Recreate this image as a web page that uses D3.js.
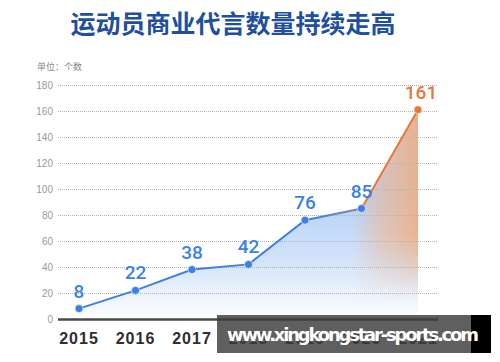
<!DOCTYPE html>
<meta charset="utf-8">
<title>运动员商业代言数量持续走高</title>
<style>
  body { margin:0; background:#fff; }
  svg { display:block; font-family:"Liberation Sans", Arial, sans-serif; }
  .title { font-family:"Noto Sans CJK SC", sans-serif; font-weight:bold; font-size:25px; fill:#1f4f9f; }
  .unit { font-family:"Noto Sans CJK SC", sans-serif; font-size:9px; fill:#8a8a8a; }
  .ytick { font-size:10px; fill:#9a9a9a; }
  .xtick { font-size:16px; font-weight:bold; fill:#2e2e2e; letter-spacing:1px; }
  .val { font-family:Roboto, "Liberation Sans", sans-serif; font-size:19px; font-weight:500; }
  .grid { stroke:#b4b4b4; stroke-width:1; stroke-dasharray:1,1; }
</style>
<body>
<svg width="500" height="362" id="chart"></svg>
<script src="https://cdnjs.cloudflare.com/ajax/libs/d3/7.8.5/d3.min.js"></script>
<script>
// data
var years = ["2015", "2016", "2017", "2018", "2019", "2020", "2021"];
var counts = [8, 22, 38, 42, 76, 85, 161];
var yTicks = [0, 20, 40, 60, 80, 100, 120, 140, 160, 180];

var blue = "#3b7fe8", orange = "#e8773a";

var svg = d3.select("#chart");

var x = d3.scalePoint().domain(years).range([79, 418]);
var y = d3.scaleLinear().domain([0, 180]).range([319, 85]);

var data = years.map(function(d, i) { return {year: d, v: counts[i]}; });

/* gradients */
var defs = svg.append("defs");
var gBlue = defs.append("linearGradient").attr("id", "blueFill")
    .attr("gradientUnits", "userSpaceOnUse")
    .attr("x1", 0).attr("y1", 200).attr("x2", 0).attr("y2", 322);
gBlue.append("stop").attr("offset", "0").attr("stop-color", "#b6d2f7");
gBlue.append("stop").attr("offset", "0.5").attr("stop-color", "#d3e4fa");
gBlue.append("stop").attr("offset", "1").attr("stop-color", "#ffffff");

var gOr = defs.append("linearGradient").attr("id", "orFill")
    .attr("gradientUnits", "userSpaceOnUse")
    .attr("x1", 352).attr("y1", 0).attr("x2", 418).attr("y2", 0);
gOr.append("stop").attr("offset", "0").attr("stop-color", "#f2b48c").attr("stop-opacity", 0);
gOr.append("stop").attr("offset", "0.45").attr("stop-color", "#f2b48c").attr("stop-opacity", 0.55);
gOr.append("stop").attr("offset", "1").attr("stop-color", "#f0ac7f").attr("stop-opacity", 0.85);

var gFade = defs.append("linearGradient").attr("id", "fadeDown")
    .attr("gradientUnits", "userSpaceOnUse")
    .attr("x1", 0).attr("y1", 235).attr("x2", 0).attr("y2", 300);
gFade.append("stop").attr("offset", "0").attr("stop-color", "#fff");
gFade.append("stop").attr("offset", "1").attr("stop-color", "#000");
defs.append("mask").attr("id", "orMask")
  .append("rect").attr("x", 0).attr("y", 0).attr("width", 500).attr("height", 362)
    .attr("fill", "url(#fadeDown)");

var gLine = defs.append("linearGradient").attr("id", "lineStroke")
    .attr("gradientUnits", "userSpaceOnUse")
    .attr("x1", x("2015")).attr("y1", 0).attr("x2", x("2021")).attr("y2", 0);
var f19 = (x("2019") - x("2015")) / (x("2021") - x("2015"));
var f20 = (x("2020") - x("2015")) / (x("2021") - x("2015"));
gLine.append("stop").attr("offset", 0).attr("stop-color", blue);
gLine.append("stop").attr("offset", f19).attr("stop-color", blue);
gLine.append("stop").attr("offset", f20 - 0.01).attr("stop-color", "#7b8fa6");
gLine.append("stop").attr("offset", f20).attr("stop-color", orange);
gLine.append("stop").attr("offset", 1).attr("stop-color", orange);

/* title */
svg.append("text").attr("class", "title")
    .attr("x", 233).attr("y", 33).attr("text-anchor", "middle")
    .text("运动员商业代言数量持续走高");
svg.append("text").attr("class", "unit")
    .attr("x", 37).attr("y", 70).text("单位：个数");

/* areas */
var area = d3.area()
    .x(function(d) { return x(d.year); })
    .y0(y(0)).y1(function(d) { return y(d.v); });

svg.append("path").datum(data)
    .attr("d", area).attr("fill", "url(#blueFill)");
svg.append("path").datum(data.slice(4))
    .attr("d", area).attr("fill", "url(#orFill)")
    .attr("mask", "url(#orMask)");

/* grid + y labels (grid shows through the areas) */
svg.selectAll(".grid").data(yTicks.slice(1)).enter().append("line")
    .attr("class", "grid")
    .attr("x1", 58).attr("x2", 437)
    .attr("y1", function(d) { return y(d) + 0.5; })
    .attr("y2", function(d) { return y(d) + 0.5; });

svg.selectAll(".ytick").data(yTicks).enter().append("text")
    .attr("class", "ytick")
    .attr("x", 53).attr("y", function(d) { return y(d) + 3.5; })
    .attr("text-anchor", "end")
    .text(function(d) { return d; });

/* x axis */
svg.append("line")
    .attr("x1", 58).attr("x2", 438)
    .attr("y1", y(0) + 0.5).attr("y2", y(0) + 0.5)
    .attr("stroke", "#4a4a4a").attr("stroke-width", 2.5);

svg.selectAll(".xtick").data(years).enter().append("text")
    .attr("class", "xtick")
    .attr("x", function(d) { return x(d); }).attr("y", 344)
    .attr("text-anchor", "middle")
    .text(function(d) { return d; });

/* line + dots + labels */
var line = d3.line()
    .x(function(d) { return x(d.year); })
    .y(function(d) { return y(d.v); });

svg.append("path").datum(data)
    .attr("d", line).attr("fill", "none")
    .attr("stroke", "url(#lineStroke)").attr("stroke-width", 2);

svg.selectAll(".dot").data(data).enter().append("circle")
    .attr("class", "dot")
    .attr("cx", function(d) { return x(d.year); })
    .attr("cy", function(d) { return y(d.v); })
    .attr("r", 4)
    .attr("fill", function(d, i) { return i == data.length - 1 ? orange : blue; })
    .attr("stroke", "#fff").attr("stroke-opacity", 0.6).attr("stroke-width", 1);

svg.selectAll(".val").data(data).enter().append("text")
    .attr("class", "val")
    .attr("x", function(d, i) { return x(d.year) + (i == data.length - 1 ? 3 : 0); })
    .attr("y", function(d) { return y(d.v) - 11; })
    .attr("text-anchor", "middle")
    .attr("fill", function(d, i) { return i == data.length - 1 ? orange : blue; })
    .text(function(d) { return d.v; });

/* watermark band */
svg.append("rect").attr("x", 217).attr("y", 315).attr("width", 254).attr("height", 38)
    .attr("fill", "#3c3c3c").attr("fill-opacity", 0.82);
svg.append("rect").attr("x", 471).attr("y", 315).attr("width", 20).attr("height", 38)
    .attr("fill", "#000");
svg.append("text")
    .attr("x", 353).attr("y", 341).attr("text-anchor", "middle")
    .attr("fill", "#fff").attr("font-size", 18).attr("font-weight", "bold")
    .attr("font-family", "'DejaVu Sans', sans-serif")
    .attr("textLength", 252)
    .text("www.xingkongstar-sports.com");
</script>
</body>
